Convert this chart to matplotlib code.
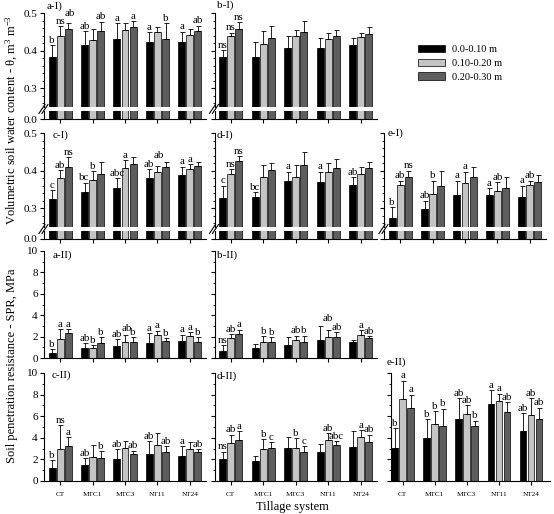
import matplotlib
matplotlib.use('Agg')
import matplotlib.pyplot as plt
from matplotlib.ticker import MultipleLocator
from matplotlib.patches import Patch
from matplotlib.lines import Line2D
import numpy as np

plt.rcParams['font.family'] = ['Liberation Serif', 'DejaVu Serif']
plt.rcParams['mathtext.fontset'] = 'custom'
plt.rcParams['mathtext.rm'] = 'Liberation Serif'
plt.rcParams['mathtext.it'] = 'Liberation Serif:italic'

# ---------------- data ----------------
systems = ['CT', 'MTC1', 'MTC3', 'NT11', 'NT24']
depths = ['0.0-0.10 m', '0.10-0.20 m', '0.20-0.30 m']

# Volumetric soil water content (rows: depth 0-0.10, 0.10-0.20, 0.20-0.30)
aI_mean = [[0.384, 0.415, 0.430, 0.424, 0.424],
           [0.440, 0.429, 0.456, 0.449, 0.441],
           [0.459, 0.453, 0.464, 0.432, 0.453]]
aI_sd = [[0.030, 0.038, 0.043, 0.026, 0.027],
         [0.026, 0.029, 0.017, 0.014, 0.017],
         [0.014, 0.025, 0.016, 0.042, 0.014]]
aI_lab = [['b', 'ab', 'a', 'a', 'a'],
          ['ns', '', '', '', ''],
          ['ab', 'ab', 'a', 'b', 'ab']]

bI_mean = [[0.383, 0.384, 0.408, 0.407, 0.415],
           [0.440, 0.418, 0.440, 0.431, 0.436],
           [0.459, 0.433, 0.450, 0.440, 0.445]]
bI_sd = [[0.019, 0.038, 0.030, 0.026, 0.018],
         [0.008, 0.036, 0.016, 0.016, 0.012],
         [0.018, 0.033, 0.030, 0.016, 0.018]]
bI_lab = [['ns', '', '', '', ''],
          ['ns', '', '', '', ''],
          ['ns', '', '', '', '']]

cI_mean = [[0.324, 0.344, 0.355, 0.380, 0.389],
           [0.382, 0.376, 0.407, 0.396, 0.404],
           [0.411, 0.391, 0.417, 0.411, 0.414]]
cI_sd = [[0.025, 0.024, 0.025, 0.024, 0.022],
         [0.020, 0.024, 0.022, 0.018, 0.013],
         [0.025, 0.033, 0.021, 0.013, 0.010]]
cI_lab = [['c', 'bc', 'abc', 'ab', 'a'],
          ['ab', 'b', 'a', 'ab', 'a'],
          ['ns', '', '', '', '']]

dI_mean = [[0.327, 0.329, 0.373, 0.369, 0.361],
           [0.391, 0.383, 0.384, 0.396, 0.391],
           [0.426, 0.402, 0.415, 0.407, 0.407]]
dI_sd = [[0.033, 0.014, 0.025, 0.029, 0.022],
         [0.013, 0.033, 0.032, 0.024, 0.018],
         [0.014, 0.020, 0.034, 0.024, 0.017]]
dI_lab = [['c', 'bc', 'a', 'a', 'ab'],
          ['ns', '', '', '', ''],
          ['ns', '', '', '', '']]

eI_mean = [[0.275, 0.299, 0.335, 0.335, 0.329],
           [0.363, 0.339, 0.368, 0.346, 0.362],
           [0.382, 0.360, 0.382, 0.354, 0.371]]
eI_sd = [[0.027, 0.021, 0.038, 0.018, 0.031],
         [0.010, 0.034, 0.029, 0.023, 0.011],
         [0.018, 0.038, 0.027, 0.028, 0.017]]
eI_lab = [['b', 'ab', 'a', 'a', 'a'],
          ['ab', 'b', 'a', 'ab', 'ab'],
          ['ns', '', '', '', '']]

# Soil penetration resistance (MPa)
aII_mean = [[0.46, 0.98, 1.14, 1.38, 1.58],
            [1.75, 0.98, 1.54, 2.15, 2.03],
            [2.30, 1.38, 1.48, 1.63, 1.53]]
aII_sd = [[0.37, 0.40, 0.61, 0.92, 0.60],
          [0.93, 0.25, 0.61, 0.40, 0.37],
          [0.40, 0.56, 0.46, 0.25, 0.41]]
aII_lab = [['b', 'ab', 'ab', 'a', 'a'],
           ['a', 'b', 'ab', 'a', 'a'],
           ['a', 'b', 'b', 'b', 'b']]

bII_mean = [[0.70, 0.92, 1.26, 1.69, 1.48],
            [1.85, 1.54, 1.72, 2.00, 2.15],
            [2.25, 1.48, 1.51, 1.94, 1.85]]
bII_sd = [[0.47, 0.40, 0.68, 1.26, 0.21],
          [0.40, 0.49, 0.37, 0.60, 0.45],
          [0.40, 0.46, 0.58, 0.46, 0.18]]
bII_lab = [['ns', '', '', '', ''],
           ['ab', 'b', 'ab', 'ab', 'a'],
           ['a', 'b', 'b', 'ab', 'ab']]

cII_mean = [[1.18, 1.49, 2.02, 2.51, 2.36],
            [2.95, 2.26, 3.04, 3.29, 2.95],
            [3.26, 2.11, 2.51, 2.64, 2.64]]
cII_sd = [[0.77, 0.62, 0.93, 1.15, 0.84],
          [2.25, 1.09, 0.68, 1.14, 0.65],
          [0.80, 0.68, 0.31, 0.62, 0.31]]
cII_lab = [['b', 'ab', 'ab', 'ab', 'a'],
           ['ns', '', '', '', ''],
           ['a', 'b', 'ab', 'ab', 'ab']]

dII_mean = [[2.05, 1.86, 3.04, 2.64, 3.13],
            [3.50, 3.00, 3.07, 3.78, 4.09],
            [3.81, 3.04, 2.73, 3.35, 3.60]]
dII_sd = [[0.68, 0.50, 1.08, 0.80, 1.46],
          [0.78, 0.88, 0.90, 0.65, 0.59],
          [0.84, 0.59, 0.47, 0.31, 0.68]]
dII_lab = [['ns', '', '', '', ''],
           ['ab', 'b', 'b', 'ab', 'a'],
           ['a', 'c', 'c', 'abc', 'ab']]

eII_mean = [[3.1, 4.0, 5.7, 7.1, 4.6],
            [7.6, 5.3, 6.2, 7.4, 6.1],
            [6.8, 5.1, 5.1, 6.4, 5.7]]
eII_sd = [[1.8, 1.7, 2.0, 1.3, 1.7],
          [1.7, 1.2, 0.8, 0.7, 1.6],
          [1.2, 1.6, 0.5, 0.9, 1.1]]
eII_lab = [['b', 'b', 'ab', 'a', 'ab'],
           ['a', 'b', 'ab', 'a', 'ab'],
           ['a', 'b', 'b', 'ab', 'ab']]

# ---------------- style ----------------
colors = ['#000000', '#c4c4c4', '#5e5e5e']
offsets = [-0.25, 0.0, 0.25]
bar_w = 0.21
FS = 8
LFS = 7.8

# label nudges (points) to keep neighbouring letters apart: (depth, group) -> (dx, dy)
aI_nudge = {(2, 0): (1, 4)}
cI_nudge = {(1, 3): (1, 4)}
bII_nudge = {(1, 3): (0, 5)}
aII_nudge = {(1, 2): (1, 1)}

W, H = 554, 514
fig = plt.figure(figsize=(W / 100, H / 100), dpi=100)


def rect(x0, x1, ytop, ybot):
    return [x0 / W, 1 - ybot / H, (x1 - x0) / W, (ybot - ytop) / H]


def style_axis(ax):
    for s in ['top', 'right']:
        ax.spines[s].set_visible(False)
    for s in ['left', 'bottom']:
        ax.spines[s].set_linewidth(0.8)
    ax.tick_params(which='major', direction='out', length=3, width=0.8,
                   labelsize=FS, pad=1.5)
    ax.tick_params(which='minor', direction='out', length=1.8, width=0.6)


def draw_bars(ax, mean, sd, labels, err=True, nudge=None):
    nudge = nudge or {}
    x = np.arange(len(systems))
    for d in range(3):
        m = np.array(mean[d])
        s = np.array(sd[d])
        ax.bar(x + offsets[d], m, width=bar_w, color=colors[d],
               edgecolor='black', linewidth=0.5, zorder=2)
        if err:
            ax.errorbar(x + offsets[d], m, yerr=[np.zeros_like(s), s],
                        fmt='none', ecolor='black', elinewidth=0.6,
                        capsize=1.8, capthick=0.6, zorder=3)
            for i in range(len(systems)):
                if labels[d][i]:
                    dx, dy = nudge.get((d, i), (0, 0))
                    ax.annotate(labels[d][i], (x[i] + offsets[d], m[i] + s[i]),
                                xytext=(dx, 0.2 + dy), textcoords='offset points',
                                ha='center', va='bottom', fontsize=LFS,
                                annotation_clip=False)


def broken_panel(x0, x1, ytop, ybrk, ylow0, ybot, mean, sd, labels,
                 show_y, xlim=(-0.5, 4.5), nudge=None):
    up = fig.add_axes(rect(x0, x1, ytop, ybrk))
    lo = fig.add_axes(rect(x0, x1, ylow0, ybot))
    draw_bars(up, mean, sd, labels, err=True, nudge=nudge)
    draw_bars(lo, mean, sd, labels, err=False)
    for ax in (up, lo):
        style_axis(ax)
        ax.set_xlim(*xlim)
        ax.patch.set_alpha(0)
    up.set_ylim(0.25, 0.5)
    up.yaxis.set_major_locator(MultipleLocator(0.1))
    up.yaxis.set_minor_locator(MultipleLocator(0.02))
    up.spines['bottom'].set_visible(False)
    up.set_xticks([])
    lo.set_ylim(0, 0.02)
    lo.set_yticks([0])
    lo.set_xticks(np.arange(len(systems)))
    lo.set_xticklabels([])
    if show_y:
        up.set_yticks([0.3, 0.4, 0.5])
        up.set_yticklabels(['0.3', '0.4', '0.5'])
        lo.set_yticklabels(['0.0'])
    else:
        up.set_yticklabels([])
        lo.set_yticklabels([])
    # break marks
    ymid = (ybrk + ylow0) / 2
    for dx in (0, 3):
        fig.add_artist(Line2D([(x0 - 5 + dx) / W, (x0 + 1 + dx) / W],
                              [1 - (ymid + 4.5) / H, 1 - (ymid - 4.5) / H],
                              color='black', lw=0.8))
    return up, lo


def full_panel(x0, x1, ytop, ybot, mean, sd, labels, show_y, show_x,
               xlim=(-0.5, 4.5), nudge=None):
    ax = fig.add_axes(rect(x0, x1, ytop, ybot))
    draw_bars(ax, mean, sd, labels, nudge=nudge)
    style_axis(ax)
    ax.patch.set_alpha(0)
    ax.set_xlim(*xlim)
    ax.set_ylim(0, 10)
    ax.yaxis.set_major_locator(MultipleLocator(2))
    ax.yaxis.set_minor_locator(MultipleLocator(1))
    ax.set_xticks(np.arange(len(systems)))
    if show_x:
        ax.set_xticklabels(systems, fontsize=5.2)
        ax.tick_params(axis='x', pad=5)
    else:
        ax.set_xticklabels([])
    if show_y:
        ax.set_yticks([0, 2, 4, 6, 8, 10])
        ax.set_yticklabels(['0', '2', '4', '6', '8', '10'])
    else:
        ax.set_yticklabels([])
    return ax


colA = (44, 206)
colB = (214.5, 377)

broken_panel(*colA, 13.3, 106.8, 111, 119, aI_mean, aI_sd, aI_lab, True,
             nudge=aI_nudge)
broken_panel(*colB, 13.3, 106.8, 111, 119, bI_mean, bI_sd, bI_lab, False)
broken_panel(*colA, 133.3, 227, 231, 239, cI_mean, cI_sd, cI_lab, True,
             nudge=cI_nudge)
broken_panel(*colB, 133.3, 227, 231, 239, dI_mean, dI_sd, dI_lab, False)
broken_panel(384, 546, 133.0, 227, 231, 239, eI_mean, eI_sd, eI_lab, False)

full_panel(*colA, 251, 358, aII_mean, aII_sd, aII_lab, True, False,
           nudge=aII_nudge)
full_panel(*colB, 251, 358, bII_mean, bII_sd, bII_lab, False, False,
           nudge=bII_nudge)
full_panel(*colA, 373, 481, cII_mean, cII_sd, cII_lab, True, True)
full_panel(*colB, 373, 481, dII_mean, dII_sd, dII_lab, False, True)
full_panel(390.7, 550, 373, 481, eII_mean, eII_sd, eII_lab, False, True,
           xlim=(-0.37, 4.59))

# panel labels
panel_labels = [('a-I)', 47, 6), ('b-I)', 217, 5), ('c-I)', 53, 135.5),
                ('d-I)', 217, 135), ('e-I)', 388, 133.5), ('a-II)', 53, 255),
                ('b-II)', 217, 255), ('c-II)', 52, 375), ('d-II)', 217, 376),
                ('e-II)', 387, 362)]
for t, px, py in panel_labels:
    fig.text(px / W, 1 - py / H, t, ha='left', va='center', fontsize=8)

# axis titles
fig.text(12 / W, 1 - 120 / H,
         'Volumetric soil water content - \u03b8, m$^{3}$ m$^{-3}$',
         rotation=90, ha='center', va='center', fontsize=9)
fig.text(12 / W, 1 - 366 / H, 'Soil penetration resistance - SPR, MPa',
         rotation=90, ha='center', va='center', fontsize=9)
fig.text(292 / W, 1 - 510 / H, 'Tillage system', ha='center',
         va='baseline', fontsize=9)

# legend
handles = [Patch(facecolor=colors[i], edgecolor='black', linewidth=0.5,
                 label=depths[i]) for i in range(3)]
fig.legend(handles=handles, loc='upper left',
           bbox_to_anchor=(414 / W, 1 - 41 / H), frameon=False,
           fontsize=7.5, handlelength=2.6, handleheight=0.7,
           labelspacing=0.42, handletextpad=0.6, borderaxespad=0)

fig.savefig('out.png', dpi=100)
